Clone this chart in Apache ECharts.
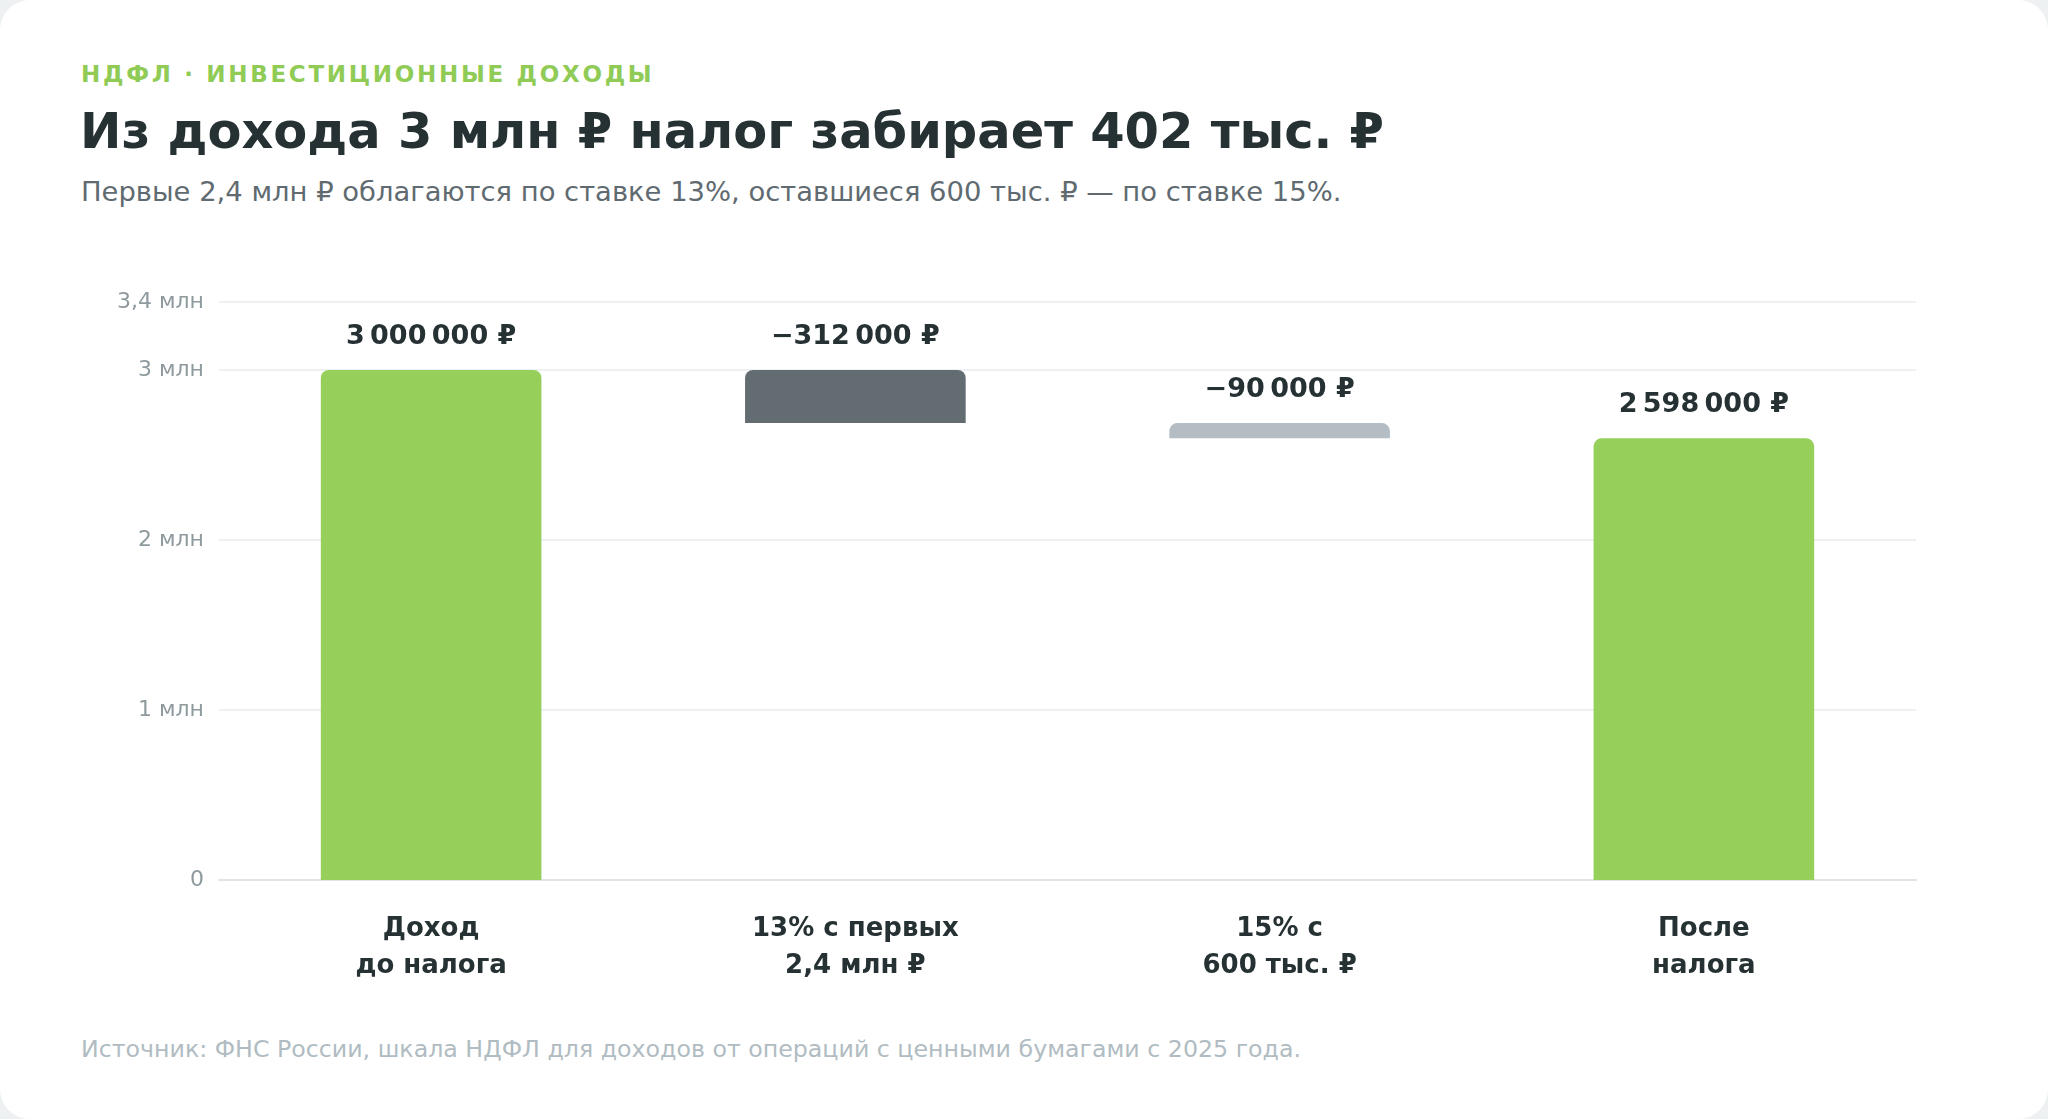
<!DOCTYPE html>
<html lang="ru">
<head>
<meta charset="utf-8">
<title>НДФЛ · инвестиционные доходы</title>
<script src="https://cdn.jsdelivr.net/npm/echarts@6/dist/echarts.min.js"></script>
<style>
  html, body { margin: 0; padding: 0; background: #eef1f1; }
  body { width: 2048px; height: 1119px; overflow: hidden; font-family: "DejaVu Sans", sans-serif; }
  .card { position: absolute; left: 0; top: 0; width: 2048px; height: 1119px; background: #fff; border-radius: 30px; }
  .eyebrow { position: absolute; left: 81px; top: 61px; font-size: 23px; font-weight: bold; letter-spacing: 2.7px; color: #8fcb55; }
  .title { position: absolute; left: 80px; top: 102px; font-size: 49.5px; font-weight: bold; color: #263133; }
  .subtitle { position: absolute; left: 81px; top: 176px; font-size: 27.4px; color: #5f6b70; }
  .source { position: absolute; left: 81px; top: 1035px; font-size: 23.7px; color: #b0bcc2; }
  #chart { position: absolute; left: 0; top: 0; width: 2048px; height: 1119px; }
</style>
</head>
<body>
<div class="card"></div>
<div class="eyebrow">НДФЛ · ИНВЕСТИЦИОННЫЕ ДОХОДЫ</div>
<div class="title">Из дохода 3 млн ₽ налог забирает 402 тыс. ₽</div>
<div class="subtitle">Первые 2,4 млн ₽ облагаются по ставке 13%, оставшиеся 600 тыс. ₽ — по ставке 15%.</div>
<div class="source">Источник: ФНС России, шкала НДФЛ для доходов от операций с ценными бумагами с 2025 года.</div>
<div id="chart"></div>
<script>
// шаги водопада
var categories = ['Доход\nдо налога', '13% с первых\n2,4 млн ₽', '15% с\n600 тыс. ₽', 'После\nналога'];
var amounts = [3000000, -312000, -90000, 2598000];
var kinds = ['total', 'tax13', 'tax15', 'total'];
var colors = { total: '#97cf5b', tax13: '#636c71', tax15: '#b3bdc3' };

// подписи оси Y
var yMax = 3400000;
var yStep = 1000000;

// невидимое основание и видимая часть столбца
var base = [];
var visible = [];
var running = 0;
for (var i = 0; i < amounts.length; i++) {
    if (kinds[i] === 'total') {
        base.push(0);
        visible.push(amounts[i]);
        running = amounts[i];
    } else {
        running += amounts[i];
        base.push(running);
        visible.push(-amounts[i]);
    }
}

function money(v) {
    var s = String(Math.abs(v)).replace(/\B(?=(\d{3})+(?!\d))/g, '\u202F');
    return (v < 0 ? '−' : '') + s + '\u00A0₽';
}

var chart = echarts.init(document.getElementById('chart'), null, { renderer: 'canvas' });
chart.setOption({
    animation: false,
    textStyle: { fontFamily: 'DejaVu Sans' },
    grid: { left: 219, right: 132, top: 302, bottom: 239, containLabel: false },
    xAxis: {
        type: 'category',
        data: categories,
        axisLine: { lineStyle: { color: '#dfe5e8', width: 2 } },
        axisTick: { show: false },
        axisLabel: {
            margin: 31,
            fontSize: 26,
            fontWeight: 'bold',
            color: '#263133',
            lineHeight: 37
        }
    },
    yAxis: {
        type: 'value',
        min: 0,
        max: yMax,
        interval: yStep,
        axisLine: { show: false },
        axisTick: { show: false },
        splitLine: { lineStyle: { color: '#eef1f3', width: 2 } },
        axisLabel: {
            margin: 15,
            fontSize: 22,
            color: '#8f9a9e',
            formatter: function (v) {
                if (v === 0) return '0';
                return String(v / 1000000).replace('.', ',') + ' млн';
            }
        }
    },
    series: [
        {
            type: 'bar',
            stack: 'wf',
            data: base,
            itemStyle: { color: 'transparent' },
            silent: true,
            barWidth: '52%'
        },
        {
            type: 'bar',
            stack: 'wf',
            barWidth: '52%',
            data: visible.map(function (v, i) {
                return { value: v, itemStyle: { color: colors[kinds[i]] } };
            }),
            itemStyle: { borderRadius: [8, 8, 0, 0] },
            label: {
                show: true,
                position: 'top',
                distance: 20,
                fontSize: 27,
                fontWeight: 'bold',
                color: '#263133',
                formatter: function (p) { return money(amounts[p.dataIndex]); }
            }
        }
    ]
});
</script>
</body>
</html>
